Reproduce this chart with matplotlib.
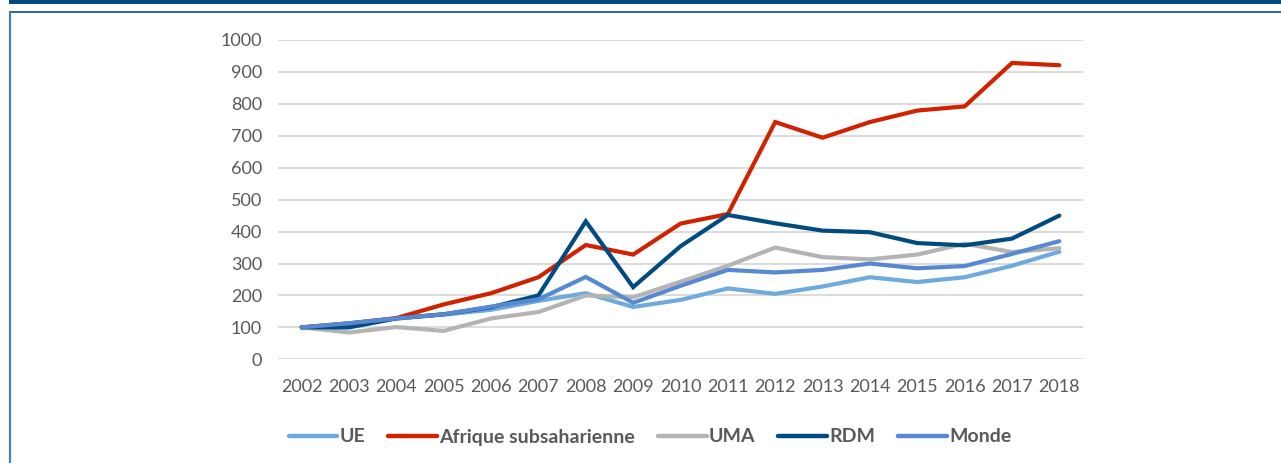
import matplotlib
matplotlib.use("Agg")
import matplotlib.pyplot as plt
from matplotlib.lines import Line2D
from matplotlib.patches import Rectangle

years = list(range(2002, 2019))
ue = [100, 113, 128, 140, 155, 183, 207, 164, 186, 222, 205, 228, 257, 242, 257, 293, 337]
afrique = [100, 112, 129, 172, 207, 257, 358, 328, 425, 455, 743, 694, 743, 779, 792, 928, 921]
uma = [100, 84, 101, 89, 128, 148, 200, 194, 243, 293, 350, 320, 313, 328, 362, 336, 348]
rdm = [100, 100, 128, 141, 163, 200, 432, 226, 354, 452, 426, 403, 398, 364, 357, 378, 450]
monde = [100, 113, 128, 141, 165, 188, 258, 177, 230, 280, 272, 280, 300, 285, 292, 330, 370]

series = [
    ("UE", ue, "#6FAADF"),
    ("Afrique subsaharienne", afrique, "#D12200"),
    ("UMA", uma, "#B4B4B4"),
    ("RDM", rdm, "#004B80"),
    ("Monde", monde, "#5689D2"),
]

plt.rcParams['font.family'] = ['Lato', 'DejaVu Sans']

W, H = 1281, 463
fig = plt.figure(figsize=(W / 100, H / 100), dpi=100)

# frame decorations
fig.patches.append(Rectangle((9 / W, 1 - 4 / H), 1 - 9 / W, 4 / H, transform=fig.transFigure,
                             facecolor="#004B80", edgecolor="none"))
fig.add_artist(Line2D([10 / W, 1], [1 - 11.5 / H, 1 - 11.5 / H], transform=fig.transFigure,
                      color="#1F5A8E", lw=1.3))
fig.add_artist(Line2D([10 / W, 10 / W], [0, 1 - 11.5 / H], transform=fig.transFigure,
                      color="#4A7FB0", lw=1.6))

left, right = 278 / W, 1083 / W
bottom, top = (H - 359.3) / H, (H - 40) / H
ax = fig.add_axes([left, bottom, right - left, top - bottom])

for name, vals, col in series:
    ax.plot(years, vals, color=col, lw=3.0, label=name, solid_capstyle='round',
            solid_joinstyle='miter', zorder=3)

ax.set_xlim(2001.5, 2018.5)
ax.set_ylim(0, 1000)
ax.set_yticks(range(0, 1001, 100))
ax.set_xticks(years)
ax.set_xticklabels([str(y) for y in years])
ax.grid(axis='y', color='#D9D9D9', lw=1.3, zorder=0)
ax.set_axisbelow(True)
for s in ax.spines.values():
    s.set_visible(False)
ax.tick_params(axis='both', length=0, labelsize=13, colors='#595959')
ax.tick_params(axis='y', pad=11.5)
ax.tick_params(axis='x', pad=14)

handles = [Line2D([], [], color=c, lw=3.2, solid_capstyle='round') for _, _, c in series]
leg = fig.legend(handles, [n for n, _, _ in series], loc='center', ncol=5,
                 bbox_to_anchor=(650 / W, 1 - 437 / H), frameon=False,
                 handlelength=2.5, handletextpad=0.1, columnspacing=1.2,
                 prop={'weight': 'bold', 'size': 14})
for t in leg.get_texts():
    t.set_color('#595959')

fig.savefig("out.png", dpi=100, facecolor='white')
